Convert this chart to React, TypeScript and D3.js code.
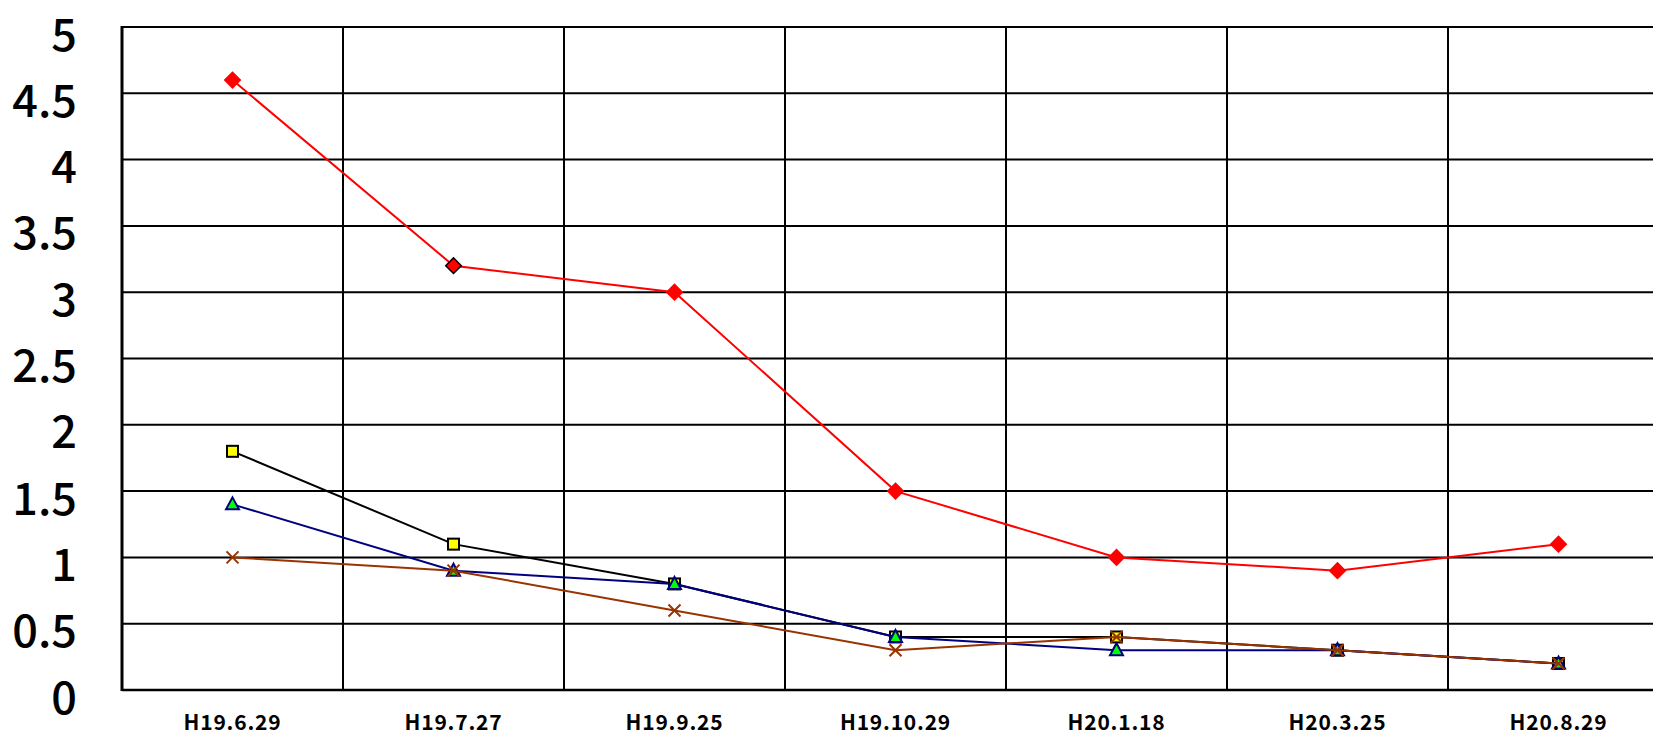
import React from "react";
import * as d3 from "d3";

const categories = ["H19.6.29", "H19.7.27", "H19.9.25", "H19.10.29", "H20.1.18", "H20.3.25", "H20.8.29"];
const redSeries = [4.6, 3.2, 3.0, 1.5, 1.0, 0.9, 1.1];
const squareSeries = [1.8, 1.1, 0.8, 0.4, 0.4, 0.3, 0.2];
const triangleSeries = [1.4, 0.9, 0.8, 0.4, 0.3, 0.3, 0.2];
const crossSeries = [1.0, 0.9, 0.6, 0.3, 0.4, 0.3, 0.2];
const yTicks = [0, 0.5, 1, 1.5, 2, 2.5, 3, 3.5, 4, 4.5, 5];

const W = 1653;
const H = 739;
const left = 122;
const band = 221;
const top = 27;
const bottom = 690;

export default function App() {
  const x = d3.scaleBand<string>().domain(categories).range([left, left + band * categories.length]);
  const y = d3.scaleLinear().domain([0, 5]).range([bottom, top]);
  const cx = (i: number) => (x(categories[i]) || 0) + x.bandwidth() / 2;

  const line = d3
    .line<number>()
    .x((_, i) => cx(i))
    .y((d) => y(d));

  const right = left + band * categories.length;
  const font = "'Noto Sans CJK JP', 'Noto Sans', sans-serif";

  return (
    <svg
      width={W}
      height={H}
      style={{ position: "absolute", left: 0, top: 0, background: "#fff", overflow: "hidden" }}
    >
      {/* horizontal grid */}
      {yTicks.map((t) => (
        <line key={"h" + t} x1={left} x2={right} y1={y(t)} y2={y(t)} stroke="#000" strokeWidth={2} />
      ))}
      {/* vertical grid */}
      {categories.map((c, i) =>
        i === 0 ? null : (
          <line key={"v" + c} x1={x(c)} x2={x(c)} y1={top} y2={bottom} stroke="#000" strokeWidth={2} />
        )
      )}
      <line x1={left} x2={left} y1={top - 1} y2={bottom + 1} stroke="#000" strokeWidth={3} />
      <line x1={left} x2={right} y1={bottom} y2={bottom} stroke="#000" strokeWidth={2.5} />

      {/* y labels */}
      {yTicks.map((t) => (
        <text
          key={"yl" + t}
          x={77}
          y={y(t) + 4}
          textAnchor="end"
          dominantBaseline="central"
          fontFamily={font}
          fontWeight={500}
          fontSize={45}
          fill="#000"
        >
          {t}
        </text>
      ))}

      {/* x labels */}
      {categories.map((c, i) => (
        <text
          key={"xl" + c}
          x={cx(i)}
          y={730}
          textAnchor="middle"
          fontFamily={font}
          fontWeight={700}
          fontSize={21}
          letterSpacing={0.8}
          fill="#000"
        >
          {c}
        </text>
      ))}

      {/* red series */}
      <path d={line(redSeries) || ""} fill="none" stroke="#ff0000" strokeWidth={2} />
      {redSeries.map((v, i) => (
        <rect
          key={"r" + i}
          x={-5.5}
          y={-5.5}
          width={11}
          height={11}
          transform={`translate(${cx(i)},${y(v)}) rotate(45)`}
          fill="#ff0000"
          stroke={i === 1 ? "#000" : "#ff0000"}
          strokeWidth={1.5}
        />
      ))}

      {/* square series */}
      <path d={line(squareSeries) || ""} fill="none" stroke="#000" strokeWidth={2} />
      {squareSeries.map((v, i) => (
        <rect
          key={"s" + i}
          x={cx(i) - 5.5}
          y={y(v) - 5.5}
          width={11}
          height={11}
          fill="#ffff00"
          stroke="#000"
          strokeWidth={2}
        />
      ))}

      {/* triangle series */}
      <path d={line(triangleSeries) || ""} fill="none" stroke="#000080" strokeWidth={2} />
      {triangleSeries.map((v, i) => (
        <path
          key={"t" + i}
          d={`M${cx(i)},${y(v) - 7}L${cx(i) + 6.5},${y(v) + 5}L${cx(i) - 6.5},${y(v) + 5}Z`}
          fill="#00ff00"
          stroke="#000080"
          strokeWidth={2}
        />
      ))}

      {/* cross series */}
      <path d={line(crossSeries) || ""} fill="none" stroke="#993300" strokeWidth={2} />
      {crossSeries.map((v, i) => (
        <path
          key={"c" + i}
          d={`M${cx(i) - 6},${y(v) - 6}L${cx(i) + 6},${y(v) + 6}M${cx(i) + 6},${y(v) - 6}L${cx(i) - 6},${y(v) + 6}`}
          fill="none"
          stroke="#993300"
          strokeWidth={2}
        />
      ))}
    </svg>
  );
}
